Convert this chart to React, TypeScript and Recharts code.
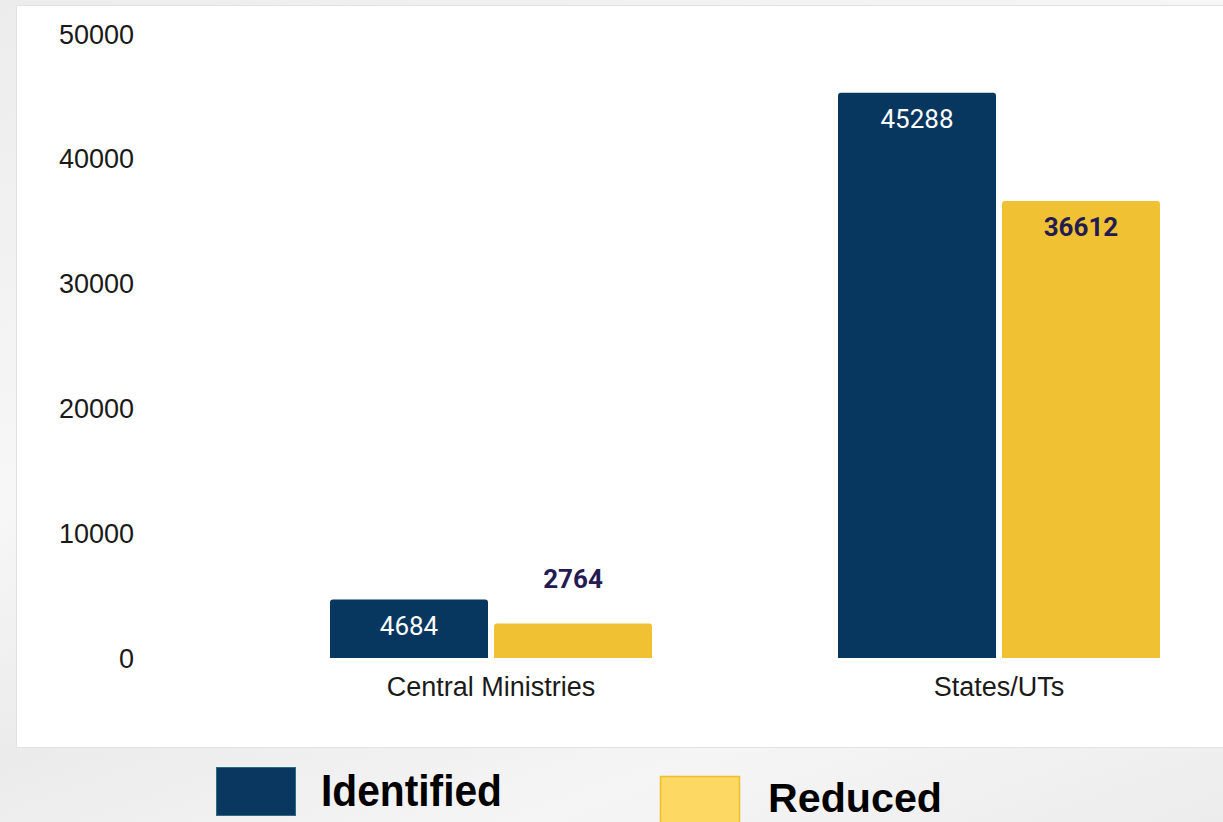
import React from 'react';
import { BarChart, Bar, XAxis, YAxis } from 'recharts';

const categories = ['Central Ministries', 'States/UTs'];
const identifiedValues = [4684, 45288];
const reducedValues = [2764, 36612];
const yTicks = [0, 10000, 20000, 30000, 40000, 50000];
const seriesNames = ['Identified', 'Reduced'];

const data = categories.map((name, i) => ({
  name,
  identified: identifiedValues[i],
  reduced: reducedValues[i],
}));

const NAVY = '#07365f';
const YELLOW = '#f0c233';
const DARK_LABEL = '#241b52';

const makeLabel = (insideFill: string, weight: number) => (props: any) => {
  const { x, y, width, height, value } = props;
  const inside = height > 50;
  const cy = inside ? y + 26 : y - 45;
  return (
    <text
      x={x + width / 2}
      y={cy}
      fill={inside ? insideFill : DARK_LABEL}
      textAnchor="middle"
      dominantBaseline="central"
      fontFamily="Roboto"
      fontSize={26}
      fontWeight={weight}
    >
      {value}
    </text>
  );
};

export default function App() {
  return (
    <div
      style={{
        position: 'absolute',
        left: 0,
        top: 0,
        width: 1223,
        height: 822,
        overflow: 'hidden',
        background:
          'linear-gradient(160deg, #ececec 0%, #f7f7f7 40%, #ebebeb 60%, #f5f5f5 80%, #ececec 100%)',
      }}
    >
      <div
        style={{
          position: 'absolute',
          left: 16,
          top: 5,
          width: 1300,
          height: 741,
          background: '#ffffff',
          border: '1px solid #e2e2e2',
        }}
      />
      <div style={{ position: 'absolute', left: 0, top: 0 }}>
        <BarChart
          width={1270}
          height={740}
          data={data}
          margin={{ top: 34, right: 17, bottom: 22, left: 0 }}
          barCategoryGap={93}
          barGap={6}
        >
          <YAxis
            width={237}
            domain={[0, 50000]}
            ticks={yTicks}
            axisLine={false}
            tickLine={false}
            tickMargin={97}
            tick={{ fontFamily: 'Liberation Sans', fontSize: 27, fill: '#1a1a1a' }}
          />
          <XAxis
            dataKey="name"
            height={60}
            axisLine={false}
            tickLine={false}
            tickMargin={13}
            tick={{ fontFamily: 'Liberation Sans', fontSize: 27, fill: '#1a1a1a' }}
          />
          <Bar
            dataKey="identified"
            name={seriesNames[0]}
            fill={NAVY}
            radius={[3, 3, 0, 0]}
            isAnimationActive={false}
            label={makeLabel('#ffffff', 400)}
          />
          <Bar
            dataKey="reduced"
            name={seriesNames[1]}
            fill={YELLOW}
            radius={[3, 3, 0, 0]}
            isAnimationActive={false}
            label={makeLabel(DARK_LABEL, 700)}
          />
        </BarChart>
      </div>
      <svg
        width={1223}
        height={822}
        style={{ position: 'absolute', left: 0, top: 0, pointerEvents: 'none' }}
      >
        <rect x={216.5} y={767.5} width={79} height={48} fill="#0a3760" stroke="#2d6b7e" strokeWidth={1} />
        <text
          x={321}
          y={806}
          fontFamily="Liberation Sans"
          fontWeight={700}
          fontSize={44}
          fill="#000000"
          textLength={181}
          lengthAdjust="spacingAndGlyphs"
        >
          {seriesNames[0]}
        </text>
        <rect x={660.5} y={776.5} width={79} height={50} fill="#fdd862" stroke="#efbe2c" strokeWidth={1.5} />
        <text
          x={768}
          y={812}
          fontFamily="Liberation Sans"
          fontWeight={700}
          fontSize={41}
          fill="#000000"
          textLength={174}
          lengthAdjust="spacingAndGlyphs"
        >
          {seriesNames[1]}
        </text>
      </svg>
    </div>
  );
}
